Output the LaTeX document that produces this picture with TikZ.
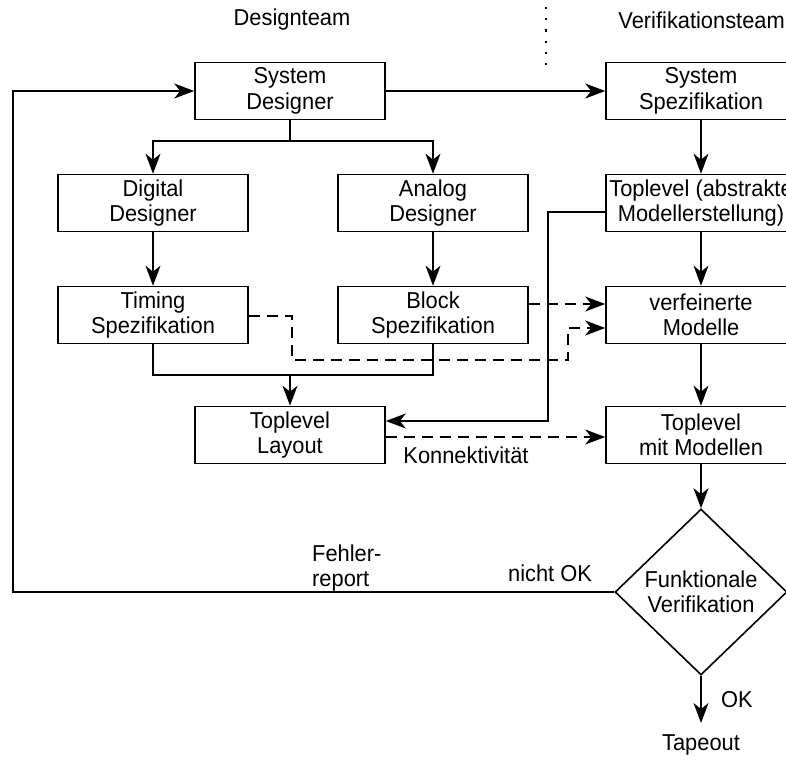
\documentclass[tikz,border=0pt]{standalone}
\usepackage{fontspec}
\setmainfont{Liberation Sans}[FakeStretch=0.95]
\usetikzlibrary{arrows.meta,shapes.geometric}

\begin{document}
\begin{tikzpicture}[x=1pt,y=-1pt,
  every node/.style={font=\fontsize{23}{25.5}\selectfont, align=center},
  box/.style={draw, line width=1.6pt, minimum width=190pt, minimum height=57pt, inner sep=0pt},
  conn/.style={line width=1.6pt},
  arr/.style={conn, -{Stealth[length=20pt,width=15pt,inset=6pt]}},
  darr/.style={arr, dash pattern=on 11pt off 7pt},
  lbl/.style={inner sep=0pt}
]
\useasboundingbox (0,0) rectangle (786,760);
\clip (0,0) rectangle (786,760);

% team headings and separator
\node[lbl] (hdes) at (292,20) {Designteam};
\node[lbl, anchor=east] (hver) at (785,20) {Verifikationsteam};
\draw[line width=2.2pt, dash pattern=on 2.2pt off 9pt] (546,7) -- (546,68);

% design side
\node[box] (sysd)  at (290,91)  {System\\Designer};
\node[box] (digd)  at (153,203) {Digital\\Designer};
\node[box] (anad)  at (433,203) {Analog\\Designer};
\node[box] (timsp) at (153,315) {Timing\\Spezifikation};
\node[box] (blksp) at (433,315) {Block\\Spezifikation};
\node[box] (tlay)  at (290,435) {Toplevel\\Layout};

% verification side
\node[box] (syssp) at (701,91)  {System\\Spezifikation};
\node[box] (tlabs) at (701,203) {Toplevel (abstrakte\\Modellerstellung)};
\node[box] (verf)  at (701,315) {verfeinerte\\Modelle};
\node[box] (tlmod) at (701,435) {Toplevel\\mit Modellen};
\node[draw, diamond, line width=1.6pt, minimum width=172pt, minimum height=166pt,
      inner sep=0pt, aspect=1] (fver) at (701,592) {Funktionale\\Verifikation};
\node[lbl] (tape) at (701,745) {Tapeout};
\coordinate (tapetop) at (701,723);

% labels
\node[lbl, align=left, anchor=west] (fehler) at (312,568) {Fehler-\\report};
\node[lbl] (nok) at (550,573) {nicht OK};
\node[lbl] (ok) at (737,700) {OK};
\node[lbl] (konn) at (466,455) {Konnektivität};

% solid connectors
\draw[arr] (sysd.east |- 0,91) -- (syssp.west |- 0,91);
\draw[conn] (sysd.south) -- (290,141) coordinate (split);
\draw[arr] (split) -| (digd.north);
\draw[arr] (split) -| (anad.north);
\draw[arr] (digd) -- (timsp);
\draw[arr] (anad) -- (blksp);
\draw[arr] (syssp) -- (tlabs);
\draw[arr] (tlabs) -- (verf);
\draw[arr] (verf) -- (tlmod);
\draw[arr] (tlmod.south) -- (fver.north);
\draw[arr] (fver.south) -- (tapetop);
\draw[conn] (timsp.south) -- (153,375) -- (433,375) -- (blksp.south);
\draw[arr] (290,375) -- (tlay.north);
\draw[arr] (tlabs.west |- 0,212) -- (548,212) -- (548,421) -- (tlay.east |- 0,421);
\draw[arr] (fver.west) -- (13,592) -- (13,91) -- (sysd.west |- 0,91);

% dashed connectors
\draw[darr] (blksp.east |- 0,304) -- (verf.west |- 0,304);
\draw[darr] (timsp.east |- 0,316) -- (292,316) -- (292,360) -- (568,360) -- (568,328) -- (verf.west |- 0,328);
\draw[darr] (tlay.east |- 0,437) -- (tlmod.west |- 0,437);
\end{tikzpicture}
\end{document}
